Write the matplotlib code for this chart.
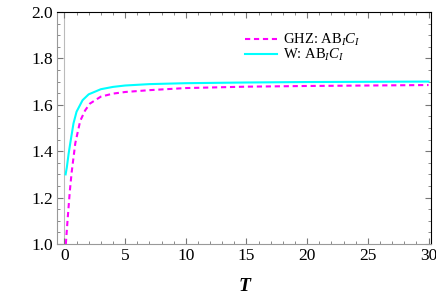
import numpy as np
import matplotlib
matplotlib.use("Agg")
import matplotlib.pyplot as plt
from matplotlib.ticker import MultipleLocator, FormatStrFormatter

plt.rcParams['font.family'] = 'Liberation Serif'
plt.rcParams['mathtext.fontset'] = 'custom'
plt.rcParams['mathtext.rm'] = 'Liberation Serif'
plt.rcParams['mathtext.it'] = 'Liberation Serif:italic'
plt.rcParams['mathtext.bf'] = 'Liberation Serif:bold'

# W state curve
t_w = [0.1, 0.2, 0.35, 0.5, 0.75, 1.0, 1.5, 2.0, 3.0, 4.0, 5.0, 7.0, 10, 15, 20, 25, 30]
v_w = [1.30, 1.33, 1.39, 1.44, 1.52, 1.57, 1.62, 1.645, 1.667, 1.677, 1.683, 1.689,
       1.693, 1.696, 1.698, 1.699, 1.700]
# GHZ state curve
t_ghz = [0.12, 0.2, 0.3, 0.45, 0.6, 0.9, 1.3, 1.7, 2.1, 3.0, 4.0, 5.0, 7.0, 10, 15, 20, 25, 30]
v_ghz = [1.00, 1.06, 1.13, 1.23, 1.31, 1.435, 1.53, 1.575, 1.605, 1.635, 1.648, 1.655,
         1.663, 1.672, 1.678, 1.681, 1.683, 1.685]

fig = plt.figure(figsize=(4.36, 2.99), dpi=100)
ax = fig.add_axes([0.131, 0.184, 0.8575, 0.776])

# the T=0 axis line, light gray like Mathematica
ax.axvline(0, color='#bbbbbb', lw=0.8, zorder=1)
ax.plot(t_ghz, v_ghz, color='magenta', lw=1.5, ls=(0, (2.5, 1.8)), label=r'GHZ: AB$_I C_I$')
ax.plot(t_w, v_w, color='cyan', lw=1.5, label=r'W: AB$_I C_I$')

ax.set_xlim(-0.6, 30.2)
ax.set_ylim(1.0, 2.0)
ax.xaxis.set_major_locator(MultipleLocator(5))
ax.xaxis.set_minor_locator(MultipleLocator(1))
ax.yaxis.set_major_locator(MultipleLocator(0.2))
ax.yaxis.set_minor_locator(MultipleLocator(0.05))
ax.yaxis.set_major_formatter(FormatStrFormatter('%.1f'))
ax.tick_params(which='both', direction='in', top=True, right=True, labelsize=12.5,
               color='#777777', pad=3)
ax.tick_params(which='major', length=4)
ax.tick_params(which='minor', length=2)
for s in ['left', 'bottom']:
    ax.spines[s].set_color('#999999')
for s in ['top', 'right']:
    ax.spines[s].set_color('black')
for s in ax.spines.values():
    s.set_linewidth(0.8)

ax.set_xlabel('T', fontsize=14, fontweight='bold', fontstyle='italic', labelpad=10)

leg = ax.legend(loc='upper right', bbox_to_anchor=(0.828, 0.94), frameon=False,
                fontsize=10.5, handlelength=2.2, handletextpad=0.4,
                labelspacing=-0.05, borderaxespad=0)

fig.savefig('out.png', dpi=100)
